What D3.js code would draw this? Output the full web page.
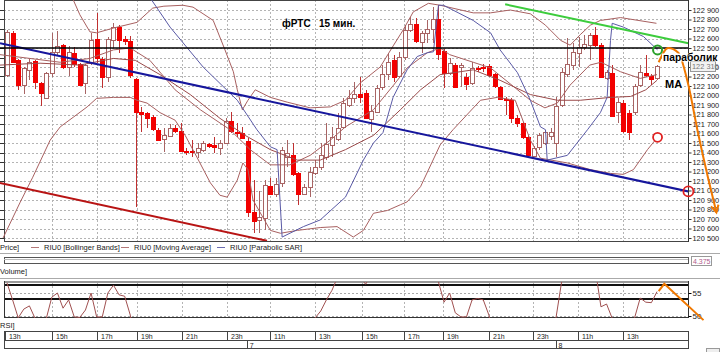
<!DOCTYPE html>
<html lang="ru">
<head>
<meta charset="UTF-8">
<title>фРТС 15 мин.</title>
<style>
  body { margin: 0; background: #fff; }
  svg { display: block; font-family: "Liberation Sans", Arial, sans-serif; }
</style>
</head>
<body>
<svg id="svg" width="720" height="352"></svg>
<script src="https://d3js.org/d3.v7.min.js"></script>
<script>
// 15 min candles, [open, high, low, close]
const candles = [
  [122220,122690,122190,122670],[122660,122680,122350,122360],[122370,122380,122060,122110],[122110,122300,122020,122290],
  [122270,122380,122160,122350],[122360,122370,122070,122140],[122130,122140,121890,122020],[121980,122250,121970,122240],
  [122240,122660,122190,122460],[122460,122680,122430,122520],[122530,122540,122280,122300],[122300,122520,122210,122460],
  [122450,122510,122300,122330],[122330,122340,122100,122110],[122130,122330,122020,122320],[122340,122660,122320,122580],
  [122590,122870,122340,122390],[122380,122410,122080,122190],[122190,122620,122140,122590],[122580,122760,122500,122720],
  [122720,122740,122450,122580],[122590,122630,122530,122570],[122570,122630,122180,122210],[122170,122180,120830,121820],
  [121830,121880,121620,121810],[121820,121830,121660,121770],[121770,121790,121630,121640],[121640,121660,121530,121540],
  [121540,121660,121410,121580],[121580,121700,121560,121660],[121660,121690,121610,121630],[121630,121710,121410,121420],
  [121420,121450,121370,121410],[121420,121530,121350,121410],[121410,121500,121340,121450],[121430,121520,121410,121500],
  [121490,121500,121450,121470],[121480,121560,121390,121460],[121450,121530,121370,121500],[121500,121760,121490,121730],
  [121730,121830,121610,121630],[121620,121710,121560,121610],[121610,121670,121550,121560],[121520,121550,120720,120770],
  [120770,121110,120550,120680],[120690,121000,120550,120720],[120710,121110,120580,121060],[121050,121130,120950,120970],
  [120970,121130,120930,121070],[121080,121460,121040,121430],[121350,121530,121250,121390],[121370,121500,121150,121170],
  [121180,121190,120850,120960],[120970,121070,120950,121040],[121030,121250,120930,121190],[121190,121320,121160,121250],
  [121240,121500,121220,121370],[121350,121710,121320,121490],[121480,121670,121350,121560],[121540,121820,121520,121660],
  [121670,121970,121660,121920],[121900,122060,121880,121970],[121980,122140,121920,122020],[122020,122190,121920,121990],
  [122030,122060,121760,121770],[121760,121900,121620,121840],[121830,122110,121820,122080],[122090,122320,122060,122230],
  [122220,122450,122160,122350],[122370,122430,122140,122190],[122210,122460,122180,122410],[122410,122740,122370,122690],
  [122690,122830,122670,122750],[122750,122820,122550,122570],[122570,122680,122450,122660],[122660,122790,122550,122700],
  [122700,122930,122550,122810],[122810,122950,122370,122440],[122470,122490,122080,122240],[122240,122390,122220,122340],
  [122320,122340,122080,122090],[122300,122340,122090,122320],[122190,122240,122060,122120],[122130,122350,122110,122290],
  [122290,122310,122250,122280],[122300,122330,122250,122290],[122310,122330,122190,122220],[122230,122240,122080,122100],
  [122090,122100,121950,121960],[121960,121980,121790,121950],[121950,121970,121710,121760],[121760,121790,121670,121710],
  [121710,121720,121540,121560],[121560,121580,121350,121370],[121370,121470,121350,121450],[121450,121610,121430,121580],
  [121500,121640,121480,121620],[121580,121660,121530,121620],[121500,121980,121350,121890],[121900,122290,121880,122250],
  [122220,122610,122190,122330],[122320,122550,122270,122460],[122450,122620,122300,122510],[122510,122640,122480,122540],
  [122530,122660,122370,122640],[122640,122720,122510,122530],[122530,122550,122180,122190],[122190,122270,122160,122250],
  [122240,122320,121770,121790],[121820,121970,121710,121930],[121920,121950,121610,121620],[121820,121850,121530,121620],
  [121830,122120,121790,122100],[122110,122320,122090,122250],[122240,122430,122190,122220],[122210,122230,122110,122180],
  [122180,122320,122160,122310]
]

// indicator lines, [candle index, price]
const upperBand = [[7.7,123430],[11.8,123010],[13,122850],[14.8,122670],[16,122660],[19,122710],[23.2,122770],[26,122920],
  [28,122940],[31.4,122950],[33.2,122930],[36.8,122790],[38.9,122480],[40.4,122250],[41.1,122060],[42,121850],[43,121950],
  [44.3,122060],[47,121980],[50,121930],[54.1,121870],[57.7,121880],[60.4,121950],[63,122130],[66.6,122300],[69,122530],
  [70.7,122690],[72.5,122880],[75.2,122970],[77.3,122950],[83.2,122870],[86.3,122870],[89.8,122900],[93.4,122860],
  [96.1,122740],[98.8,122580],[100.5,122530],[102.3,122640],[104.1,122740],[105.9,122790],[109.5,122820],[115.9,122760]]
const middleBand = [[-1.25,122430],[4.1,122390],[9.5,122350],[14.8,122390],[19,122480],[22,122500],[25.5,122370],[30,122060],
  [34.5,121850],[39.8,121640],[43.4,121430],[47,121270],[50.5,121270],[54.1,121370],[57.7,121530],[60.4,121670],[65.4,121850],
  [69,122110],[71.4,122290],[75,122450],[77.3,122500],[79,122430],[83.2,122350],[86.3,122290],[90.7,122080],[93.4,121950],
  [96,121870],[98.2,121920],[100.5,122110],[104,122320],[106,122350],[109.5,122250],[113,122180],[116,122220]]
const lowerBand = [[-0.7,120500],[2.3,120870],[4.6,121140],[7.7,121530],[9.5,121670],[11.8,121770],[14.3,121880],[16,121970],
  [19,121980],[22,121980],[23.2,121950],[25,121920],[27.3,121820],[30,121740],[31.8,121580],[33.9,121350],[36.3,121080],
  [38,120950],[39.3,120930],[41.1,121110],[42.1,121290],[43,121220],[43.9,120900],[47,120580],[48.8,120550],[51.8,120580],
  [55.9,120610],[58.9,120620],[61.8,120510],[63.6,120580],[65.4,120760],[67.9,120790],[70.2,120850],[71.4,120880],
  [73.8,121040],[77.3,121480],[79.6,121640],[84.5,121950],[87.5,121980],[90.7,121950],[93.4,121530],[95.2,121340],
  [100,121290],[104.1,121220],[107.7,121180],[110,121170],[111.8,121220],[114.3,121430],[116.1,121560]]
const movingAvg = [[-1.25,122320],[5.9,122340],[13,122320],[19,122390],[22.9,122370],[27.3,122220],[32.7,122010],[38,121760],
  [42.5,121580],[47,121430],[51.8,121320],[55.9,121320],[60.4,121430],[65.4,121580],[70.2,121850],[73.8,122060],[77.3,122220],
  [83.2,122270],[88,122160],[93.4,122010],[98.2,121950],[102.3,121950],[107.7,121980],[111.3,121990],[114,122060],[116,122160]]
const sar = [[24.6,123110],[29.1,122720],[35,122300],[41.1,121950],[44.6,121640],[47,121460],[48.2,121430],[49.1,120510],
  [52.9,120620],[55.9,120690],[60.4,120930],[63.6,121320],[65.4,121500],[67.1,121610],[68.9,121980],[71.4,122270],
  [73.2,122410],[75,122450],[76.1,122460],[77,122950],[77.9,122950],[83.2,122790],[86.3,122660],[88,122480],[91.1,122240],
  [93.4,121950],[95.2,121670],[96.1,121640],[96.4,121320],[100,121370],[103.6,121640],[105.9,121820],[107.1,121980],
  [107.7,122580],[108,122760],[110,122720],[113.6,122620],[116.1,122480]]

// hand drawn lines
const blueTrend = [[-1.25,122550],[121.6,120990]]
const redTrend = [[-1.25,121080],[46.4,120470]]
const greenTrend = [[88.9,122960],[121.6,122550]]
const levelPrice = 122500
const priceForecast = [[116.3,122350],[118,122500],[119.8,122450],[121.6,122110],[123.2,121640],[125.2,121110],[126.6,120770]]

// RSI per candle
const rsi = [57.2,53.5,49.6,51.5,52.2,49.5,48.5,49.4,54.1,55,51.7,53.5,49.8,49.7,51.3,55,49.8,49.8,55,56.7,
  54.6,54.3,50.2,44,36,35,33,30,27,30,33,32,28,28,28,31,33,32,32,34,
  45,41,40,39,25,23,24,33,32,35,45,45,40,35,37,49.6,51.1,53.5,55.6,58.5,
  60,62,60,58.5,56.9,59,61,63,65,63,64,67,68,64,65,66,68,57.4,53,55,
  50.7,49.8,49.8,53.5,53.8,53.5,50.2,44,40,36,34,30,29,27,25,30,33,45,49.8,57.6,
  62,64,66,67,68,60,52,52.6,49.5,42,41,38,49.6,53.9,53,52.9,55.3]
const rsiForecast = [[116.3,55.4],[117.3,57],[124.3,49.1]]
const rsiLevels = [56.7, 53.7]
const rsiTicks = [50, 55]

const priceTicks = d3.range(120500, 122901, 100)
const hiddenPriceLabels = [122400] // covered by the "параболик" note in the original
const timeTickIdx = [-0.36, 8.03, 16.06, 23.2, 31.23, 39.26, 46.94, 54.97, 63.36, 70.86, 77.82, 86.03, 93.88, 101.91, 109.94]
const timeTickLabels = ['13h','15h','17h','19h','21h','23h','11h','13h','15h','17h','19h','21h','23h','11h','13h']
const dayIdx = [42.8, 97.9]
const dayLabels = ['7', '8']

const svg = d3.select('#svg')
const L = 4, R = 688, T = 0, B = 241
const x = d3.scaleLinear().domain([0, candles.length - 1]).range([7, 657])
const y = d3.scaleLinear().domain([120500, 122900]).range([238, 10])
const yR = d3.scaleLinear().domain([50, 55]).range([316, 293])
const px = v => Math.round(v) + 0.5
const fmt = d3.formatLocale({decimal: '.', thousands: ' ', grouping: [3], currency: ['', '']}).format(',')

svg.append('rect').attr('width', 720).attr('height', 352).attr('fill', '#fff')
const defs = svg.append('defs')
defs.append('clipPath').attr('id', 'clipMain')
  .append('rect').attr('x', 0).attr('y', T).attr('width', R).attr('height', B - T)
defs.append('clipPath').attr('id', 'clipRsi')
  .append('rect').attr('x', L).attr('y', 282).attr('width', R - L).attr('height', 36)

// grid main
const grid = svg.append('g').attr('stroke', '#b4b4b4').attr('stroke-dasharray', '2,2').attr('shape-rendering', 'crispEdges')
grid.selectAll('.h').data(priceTicks).enter().append('line')
  .attr('x1', L).attr('x2', R).attr('y1', d => px(y(d))).attr('y2', d => px(y(d)))
grid.selectAll('.v').data(timeTickIdx.slice(1)).enter().append('line')
  .attr('x1', d => px(x(d))).attr('x2', d => px(x(d))).attr('y1', T).attr('y2', B)
svg.append('g').attr('stroke', '#333').attr('shape-rendering', 'crispEdges')
  .selectAll('line').data(priceTicks).enter().append('line')
  .attr('x1', 0).attr('x2', L).attr('y1', d => px(y(d))).attr('y2', d => px(y(d)))

// frame of main panel
svg.append('rect').attr('x', L + 0.5).attr('y', 0.5).attr('width', R - L).attr('height', B)
  .attr('fill', 'none').attr('stroke', '#444').attr('shape-rendering', 'crispEdges')

const main = svg.append('g').attr('clip-path', 'url(#clipMain)')
const line = d3.line().x(d => x(d[0])).y(d => y(d[1]))

// candles
const cg = main.append('g').attr('shape-rendering', 'crispEdges')
const cdl = cg.selectAll('g').data(candles).enter().append('g')
cdl.append('line')
  .attr('x1', (d, i) => px(x(i))).attr('x2', (d, i) => px(x(i)))
  .attr('y1', d => y(d[1])).attr('y2', d => y(d[2]))
  .attr('stroke', d => d[3] >= d[0] ? '#a86464' : '#c03030')
cdl.append('rect')
  .attr('x', (d, i) => Math.round(x(i)) - 1.5)
  .attr('y', d => Math.round(y(Math.max(d[0], d[3]))) + 0.5)
  .attr('width', 4)
  .attr('height', d => Math.max(1, Math.round(Math.abs(y(d[0]) - y(d[3])))))
  .attr('fill', d => d[3] >= d[0] ? '#fff' : '#f20000')
  .attr('stroke', d => d[3] >= d[0] ? '#a86464' : '#f20000')

// indicators
const ind = [[upperBand, '#a86060'], [middleBand, '#a86060'], [lowerBand, '#a86060'], [movingAvg, '#9a4a4a'], [sar, '#5a5aa6']]
ind.forEach(([data, c]) => {
  main.append('path').attr('d', line(data)).attr('fill', 'none').attr('stroke', c).attr('stroke-width', 1)
})

// trend lines
main.append('path').attr('d', line(redTrend)).attr('fill', 'none').attr('stroke', '#b81414').attr('stroke-width', 2)
main.append('path').attr('d', line(blueTrend)).attr('fill', 'none').attr('stroke', '#16169c').attr('stroke-width', 2)
svg.append('path').attr('d', line(greenTrend)).attr('fill', 'none').attr('stroke', '#3ccc3c').attr('stroke-width', 2)
svg.append('line').attr('x1', 0).attr('x2', R).attr('y1', y(levelPrice)).attr('y2', y(levelPrice))
  .attr('stroke', '#000').attr('stroke-width', 1.3)

// right axis
svg.append('line').attr('x1', R + 0.5).attr('x2', R + 0.5).attr('y1', 0).attr('y2', B + 1).attr('stroke', '#333')
const axR = svg.append('g').attr('transform', `translate(${R + 0.5},0)`)
  .call(d3.axisRight(y).tickValues(priceTicks).tickSize(3).tickPadding(1)
    .tickFormat(d => hiddenPriceLabels.includes(d) ? '' : fmt(d)))
axR.select('.domain').remove()
axR.selectAll('text').attr('font-size', '7.4px').attr('fill', '#222').attr('font-family', 'Liberation Sans, Arial, sans-serif')
axR.selectAll('line').attr('stroke', '#333')

// last price tag
const last = candles[candles.length - 1][3]
svg.append('rect').attr('x', 690.5).attr('y', Math.round(y(last)) - 4.5).attr('width', 25).attr('height', 10)
  .attr('fill', '#f2f2f2').attr('stroke', '#999')
svg.append('text').attr('x', 692).attr('y', y(last) + 3).attr('font-size', '7.4px').attr('fill', '#777').text(fmt(last))

// forecast arrow
const fLine = d3.line().x(d => x(d[0])).y(d => y(d[1])).curve(d3.curveMonotoneX)
svg.append('path').attr('d', fLine(priceForecast)).attr('fill', 'none').attr('stroke', '#f07800').attr('stroke-width', 2)
const pA = priceForecast[priceForecast.length - 2], pB = priceForecast[priceForecast.length - 1]
const ang = Math.atan2(y(pB[1]) - y(pA[1]), x(pB[0]) - x(pA[0]))
const tipX = x(pB[0]), tipY = y(pB[1])
svg.append('path')
  .attr('d', `M${tipX - 8 * Math.cos(ang - 0.5)},${tipY - 8 * Math.sin(ang - 0.5)}L${tipX},${tipY}L${tipX - 8 * Math.cos(ang + 0.5)},${tipY - 8 * Math.sin(ang + 0.5)}`)
  .attr('fill', 'none').attr('stroke', '#f07800').attr('stroke-width', 2)

// circles
const sLast = sar[sar.length - 1], lbLast = lowerBand[lowerBand.length - 1], btLast = blueTrend[1]
svg.append('circle').attr('cx', x(sLast[0])).attr('cy', y(sLast[1])).attr('r', 4.5)
  .attr('fill', 'none').attr('stroke', '#2aa02a').attr('stroke-width', 2)
svg.append('circle').attr('cx', x(lbLast[0])).attr('cy', y(lbLast[1])).attr('r', 4.5)
  .attr('fill', '#fff').attr('stroke', '#e02020').attr('stroke-width', 1.8)
svg.append('circle').attr('cx', x(btLast[0])).attr('cy', y(btLast[1])).attr('r', 5)
  .attr('fill', 'none').attr('stroke', '#e02020').attr('stroke-width', 1.8)

// titles
svg.append('text').attr('x', 282).attr('y', 27).attr('font-size', '10px').attr('font-weight', 'bold')
  .attr('xml:space', 'preserve').text('фРТС   15 мин.')
svg.append('rect').attr('x', 662).attr('y', 53.5).attr('width', 58).attr('height', 8).attr('fill', '#fff')
svg.append('text').attr('x', 663).attr('y', 61).attr('font-size', '10.3px').attr('font-weight', 'bold').text('параболик')
svg.append('text').attr('x', 665).attr('y', 88).attr('font-size', '11px').attr('font-weight', 'bold').text('МА')

// legend
const leg = svg.append('g').attr('font-size', '7.5px').attr('fill', '#222')
leg.append('text').attr('x', 0).attr('y', 250).text('Price]')
const legItems = [[31, 'RIU0 [Bollinger Bands]', '#b47878'], [121, 'RIU0 [Moving Average]', '#b47878'], [217, 'RIU0 [Parabolic SAR]', '#6b6bb0']]
legItems.forEach(([lx, t, c]) => {
  leg.append('line').attr('x1', lx).attr('x2', lx + 8).attr('y1', 247.5).attr('y2', 247.5).attr('stroke', c)
  leg.append('text').attr('x', lx + 13).attr('y', 250).text(t)
})
svg.append('line').attr('x1', 0).attr('x2', 720).attr('y1', 253.5).attr('y2', 253.5).attr('stroke', '#aaa')

// volume pane
svg.append('rect').attr('x', L + 0.5).attr('y', 257.5).attr('width', R - L).attr('height', 6)
  .attr('fill', 'none').attr('stroke', '#555')
svg.append('line').attr('x1', L).attr('x2', R).attr('y1', 259.5).attr('y2', 259.5).attr('stroke', '#bbb')
svg.append('rect').attr('x', 691.5).attr('y', 256.5).attr('width', 20).attr('height', 9).attr('fill', '#fff').attr('stroke', '#999')
svg.append('text').attr('x', 693).attr('y', 263.5).attr('font-size', '7px').attr('fill', '#b05a8c').text('4.375')
svg.append('text').attr('x', 0).attr('y', 274).attr('font-size', '7.5px').attr('fill', '#222').text('Volume]')
svg.append('line').attr('x1', 0).attr('x2', 720).attr('y1', 278.5).attr('y2', 278.5).attr('stroke', '#aaa')

// RSI pane
const rg = svg.append('g').attr('shape-rendering', 'crispEdges')
rg.selectAll('.v').data(timeTickIdx.slice(1)).enter().append('line')
  .attr('x1', d => px(x(d))).attr('x2', d => px(x(d))).attr('y1', 282).attr('y2', 318)
  .attr('stroke', '#b4b4b4').attr('stroke-dasharray', '2,2')
rg.selectAll('.t').data(rsiTicks).enter().append('line')
  .attr('x1', L).attr('x2', R).attr('y1', d => px(yR(d))).attr('y2', d => px(yR(d)))
  .attr('stroke', '#aaa').attr('stroke-dasharray', '2,2')
rg.selectAll('.lv').data(rsiLevels).enter().append('line')
  .attr('x1', L).attr('x2', R).attr('y1', d => yR(d)).attr('y2', d => yR(d))
  .attr('stroke', '#111').attr('stroke-width', 1.5)
svg.append('line').attr('x1', L).attr('x2', R).attr('y1', 282).attr('y2', 282).attr('stroke', '#999').attr('stroke-width', 2)
svg.append('line').attr('x1', L).attr('x2', R).attr('y1', 317.5).attr('y2', 317.5).attr('stroke', '#333')
svg.append('line').attr('x1', L + 0.5).attr('x2', L + 0.5).attr('y1', 281).attr('y2', 318).attr('stroke', '#333')
svg.append('g').attr('clip-path', 'url(#clipRsi)').append('path')
  .attr('d', d3.line().x((d, i) => x(i)).y(d => yR(d))(rsi))
  .attr('fill', 'none').attr('stroke', '#a05050').attr('stroke-width', 1)
svg.append('line').attr('x1', R + 0.5).attr('x2', R + 0.5).attr('y1', 281).attr('y2', 318).attr('stroke', '#333')
const axRsi = svg.append('g').attr('transform', `translate(${R + 0.5},0)`)
  .call(d3.axisRight(yR).tickValues(rsiTicks).tickSize(3).tickPadding(1).tickFormat(d3.format('d')))
axRsi.select('.domain').remove()
axRsi.selectAll('text').attr('font-size', '8px').attr('fill', '#222').attr('font-family', 'Liberation Sans, Arial, sans-serif')
svg.append('path')
  .attr('d', d3.line().x(d => x(d[0])).y(d => yR(d[1]))(rsiForecast))
  .attr('fill', 'none').attr('stroke', '#f07800').attr('stroke-width', 2)
svg.append('text').attr('x', 0).attr('y', 328).attr('font-size', '7.5px').attr('fill', '#222').text('RSI]')

// time axis
const ta = svg.append('g').attr('shape-rendering', 'crispEdges')
ta.append('rect').attr('x', L + 0.5).attr('y', 331.5).attr('width', R - L).attr('height', 17)
  .attr('fill', '#fff').attr('stroke', '#444')
ta.append('line').attr('x1', L).attr('x2', R).attr('y1', 340.5).attr('y2', 340.5).attr('stroke', '#444')
ta.selectAll('.tk').data(timeTickIdx).enter().append('line')
  .attr('x1', d => px(Math.max(L, x(d)))).attr('x2', d => px(Math.max(L, x(d))))
  .attr('y1', 331.5).attr('y2', 340.5).attr('stroke', '#444')
svg.selectAll('.tl').data(timeTickIdx).enter().append('text')
  .attr('x', d => Math.max(L, x(d)) + 4).attr('y', 338.5).attr('font-size', '7px').attr('fill', '#222')
  .text((d, i) => timeTickLabels[i])
ta.selectAll('.dk').data(dayIdx).enter().append('line')
  .attr('x1', d => px(x(d))).attr('x2', d => px(x(d))).attr('y1', 340.5).attr('y2', 348.5).attr('stroke', '#444')
svg.selectAll('.dl').data(dayIdx).enter().append('text')
  .attr('x', d => x(d) + 3).attr('y', 347.5).attr('font-size', '7px').attr('fill', '#222')
  .text((d, i) => dayLabels[i])
svg.append('rect').attr('x', 706.5).attr('y', 348.5).attr('width', 13).attr('height', 4).attr('fill', '#eee').attr('stroke', '#999')
</script>
</body>
</html>
